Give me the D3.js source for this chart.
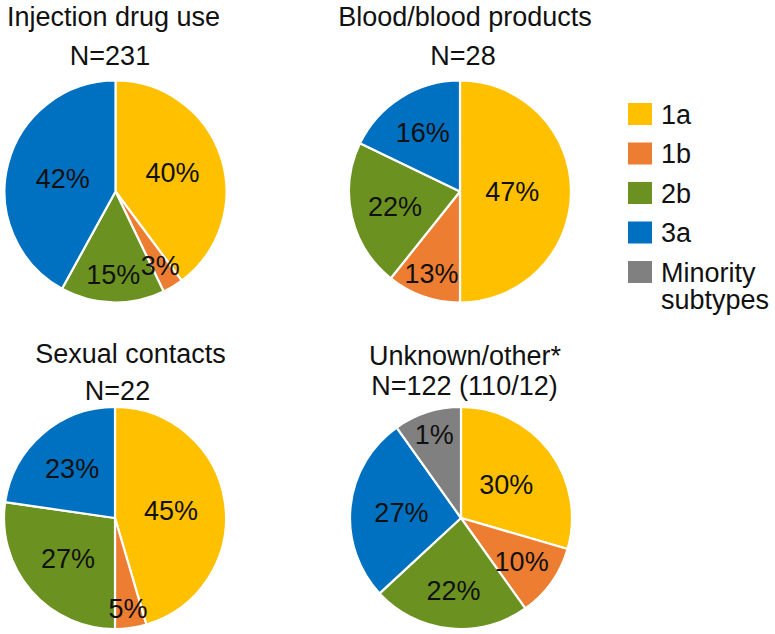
<!DOCTYPE html>
<html><head><meta charset="utf-8">
<script src="https://cdn.jsdelivr.net/npm/d3@7"></script>
<style>
html,body{margin:0;padding:0;background:#fff;}
svg{display:block;font-family:"Liberation Sans",Arial,Helvetica,sans-serif;}
</style></head>
<body>
<svg id="chart" width="775" height="634"></svg>
<script>
// ---- data ----
const subtypes = ["1a", "1b", "2b", "3a", "Minority subtypes"];
const chartTitles = ["Injection drug use", "Blood/blood products", "Sexual contacts", "Unknown/other*"];
const chartN = ["N=231", "N=28", "N=22", "N=122 (110/12)"];
// slice sizes (patient counts)
const injectionValues = [92, 7, 35, 97, 0];
const bloodValues = [14, 3, 6, 5, 0];
const sexualValues = [10, 1, 6, 5, 0];
const unknownValues = [36, 13, 28, 33, 12];
// printed percentage labels
const injectionLabels = ["40%", "3%", "15%", "42%", ""];
const bloodLabels = ["47%", "13%", "22%", "16%", ""];
const sexualLabels = ["45%", "5%", "27%", "23%", ""];
const unknownLabels = ["30%", "10%", "22%", "27%", "1%"];

// ---- style / layout ----
const colors = ["#FFC000", "#ED7D31", "#6B9120", "#0070C0", "#808080"];
const fontSize = 27;
const R = 111;
const layout = [
  {cx: 115.5, cy: 191.5, tx: 113.5, ty: 26, nx: 110, ny: 65, values: injectionValues, labels: injectionLabels, lr: [0.54, 0.78, 0.75, 0.49, 0.5]},
  {cx: 460, cy: 191.5, tx: 465, ty: 26, nx: 463, ny: 65, values: bloodValues, labels: bloodLabels, lr: [0.47, 0.78, 0.6, 0.63, 0.5]},
  {cx: 115, cy: 518, tx: 130.5, ty: 363, nx: 117.5, ny: 400, values: sexualValues, labels: sexualLabels, lr: [0.51, 0.82, 0.56, 0.59, 0.5]},
  {cx: 461, cy: 518, tx: 465, ty: 365, nx: 464.5, ny: 395, values: unknownValues, labels: unknownLabels, lr: [0.51, 0.67, 0.65, 0.54, 0.79]}
];

const svg = d3.select("#chart");
const pie = d3.pie().sort(null).value(d => d.v);
const arc = d3.arc().innerRadius(0).outerRadius(R);

layout.forEach((c, ci) => {
  const g = svg.append("g");
  g.append("text").attr("x", c.tx).attr("y", c.ty).attr("text-anchor", "middle")
    .attr("font-size", fontSize).attr("fill", "#111").text(chartTitles[ci]);
  g.append("text").attr("x", c.nx).attr("y", c.ny).attr("text-anchor", "middle")
    .attr("font-size", fontSize).attr("fill", "#111").text(chartN[ci]);

  const data = c.values.map((v, i) => ({v, i, label: c.labels[i]})).filter(d => d.v > 0);
  const arcs = pie(data);
  const pg = g.append("g").attr("transform", `translate(${c.cx},${c.cy})`);
  pg.selectAll("path").data(arcs).join("path")
    .attr("d", arc)
    .attr("fill", d => colors[d.data.i])
    .attr("stroke", "#fff").attr("stroke-width", 2.2).attr("stroke-linejoin", "round");
  pg.selectAll("text").data(arcs).join("text")
    .attr("transform", d => {
      const a = (d.startAngle + d.endAngle) / 2;
      const rr = R * c.lr[d.data.i];
      return `translate(${rr * Math.sin(a)},${-rr * Math.cos(a)})`;
    })
    .attr("text-anchor", "middle").attr("dy", "0.36em")
    .attr("font-size", fontSize).attr("fill", "#111")
    .text(d => d.data.label);
});

// legend
const lg = svg.append("g").attr("transform", "translate(628,103)");
const step = 39.5;
subtypes.forEach((s, i) => {
  const row = lg.append("g").attr("transform", `translate(0,${i * step})`);
  row.append("rect").attr("width", 24).attr("height", 22).attr("fill", colors[i]);
  const words = s === "Minority subtypes" ? ["Minority", "subtypes"] : [s];
  const t = row.append("text").attr("x", 33).attr("y", 20.5).attr("font-size", fontSize).attr("fill", "#111");
  words.forEach((w, wi) => t.append("tspan").attr("x", 33).attr("dy", wi === 0 ? 0 : 27).text(w));
});
</script>
</body></html>
